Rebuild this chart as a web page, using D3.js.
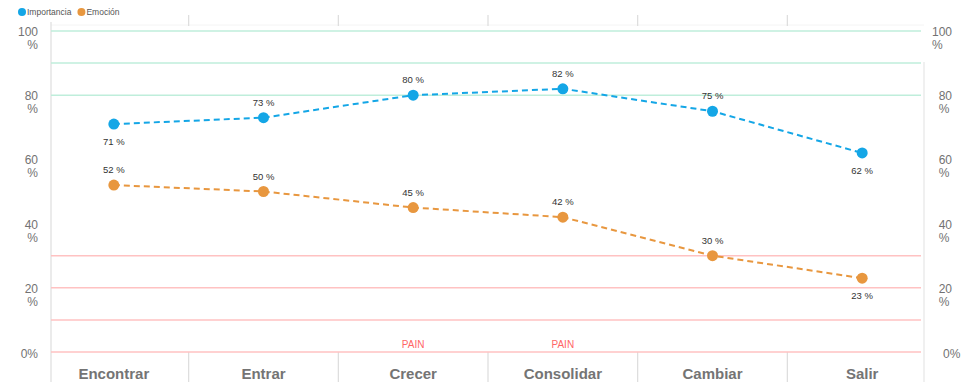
<!DOCTYPE html>
<html>
<head>
<meta charset="utf-8">
<script src="https://cdn.jsdelivr.net/npm/d3@7"></script>
<style>
	body { margin: 0; background: #fff; }
	text { font-family: "Liberation Sans", Arial, sans-serif; }
</style>
</head>
<body>
<svg id="chart"></svg>
<script>
// data
const stages = ["Encontrar", "Entrar", "Crecer", "Consolidar", "Cambiar", "Salir"];
const importancia = [71, 73, 80, 82, 75, 62];
const emocion = [52, 50, 45, 42, 30, 23];
const yTicks = [0, 20, 40, 60, 80, 100];
const greenLines = [100, 90, 80];
const redLines = [30, 20, 10, 0];
const painStages = ["Crecer", "Consolidar"];

const series = [
	{ name: "Importancia", values: importancia, color: "#14a6e6", below: [0, 5] },
	{ name: "Emoción", values: emocion, color: "#e8973f", below: [5] }
];

const width = 968, height = 382;
const svg = d3.select("#chart")
	.attr("width", width)
	.attr("height", height);

// scales
const x = d3.scaleBand()
	.domain(stages)
	.range([39, 937]);
const y = d3.scaleLinear()
	.domain([0, 100])
	.range([352, 31]);

const left = 51, right = 921;

// faint top line
svg.append("line")
	.attr("x1", left).attr("x2", 924)
	.attr("y1", 25).attr("y2", 25)
	.attr("stroke", "#f4f4f4");

// band separators at top and bottom
const bounds = stages.slice(1).map(d => x(d));
svg.selectAll(".topTick")
	.data(bounds)
	.enter().append("line")
	.attr("x1", d => d).attr("x2", d => d)
	.attr("y1", 15).attr("y2", 26)
	.attr("stroke", "#dcdcdc")
	.attr("stroke-width", 1.2);
svg.selectAll(".botTick")
	.data(bounds)
	.enter().append("line")
	.attr("x1", d => d).attr("x2", d => d)
	.attr("y1", y(0)).attr("y2", height)
	.attr("stroke", "#dcdcdc")
	.attr("stroke-width", 1.2);

// axis lines
svg.append("line")
	.attr("x1", left).attr("x2", left)
	.attr("y1", 22).attr("y2", height)
	.attr("stroke", "#dedede").attr("stroke-width", 1.2);
svg.append("line")
	.attr("x1", 924).attr("x2", 924)
	.attr("y1", 62).attr("y2", height)
	.attr("stroke", "#e6e6e6").attr("stroke-width", 1.2);

// coloured gridlines
svg.selectAll(".green")
	.data(greenLines)
	.enter().append("line")
	.attr("x1", left).attr("x2", right)
	.attr("y1", d => y(d)).attr("y2", d => y(d))
	.attr("stroke", "#bfeedb")
	.attr("stroke-width", 1.5);
svg.selectAll(".red")
	.data(redLines)
	.enter().append("line")
	.attr("x1", left).attr("x2", right)
	.attr("y1", d => y(d)).attr("y2", d => y(d))
	.attr("stroke", "#ffc2c2")
	.attr("stroke-width", 1.5);

// y labels both sides; the % goes right-aligned on the left side,
// left-aligned under the number on the right side
function yLabels(xPos, side) {
	const g = svg.append("g").attr("fill", "#727272").attr("font-size", 12);
	yTicks.forEach(t => {
		if (t === 0) {
			g.append("text")
				.attr("x", side === "left" ? xPos : xPos - 9)
				.attr("y", y(t) + 6)
				.attr("text-anchor", side === "left" ? "end" : "start")
				.text("0%");
			return;
		}
		const num = g.append("text")
			.attr("x", xPos)
			.attr("y", y(t) + 5)
			.attr("text-anchor", "end")
			.text(t);
		const w = num.node().getComputedTextLength();
		g.append("text")
			.attr("x", side === "left" ? xPos : xPos - w)
			.attr("y", y(t) + 18)
			.attr("text-anchor", side === "left" ? "end" : "start")
			.text("%");
	});
}
yLabels(38, "left");
yLabels(952, "right");

// category labels
svg.selectAll(".cat")
	.data(stages)
	.enter().append("text")
	.attr("x", d => x(d) + x.bandwidth() / 2)
	.attr("y", 379)
	.attr("text-anchor", "middle")
	.attr("font-size", 15)
	.attr("font-weight", "bold")
	.attr("fill", "#747474")
	.text(d => d);

// PAIN markers
svg.selectAll(".pain")
	.data(painStages)
	.enter().append("text")
	.attr("x", d => x(d) + x.bandwidth() / 2)
	.attr("y", 348)
	.attr("text-anchor", "middle")
	.attr("font-size", 10)
	.attr("fill", "#ff6666")
	.text("PAIN");

// lines, points, labels
const cx = i => x(stages[i]) + x.bandwidth() / 2;
const line = d3.line()
	.x((d, i) => cx(i))
	.y(d => y(d));

series.forEach(s => {
	svg.append("path")
		.datum(s.values)
		.attr("fill", "none")
		.attr("stroke", s.color)
		.attr("stroke-width", 2)
		.attr("stroke-dasharray", "6,4")
		.attr("d", line);

	svg.selectAll(null)
		.data(s.values)
		.enter().append("circle")
		.attr("cx", (d, i) => cx(i))
		.attr("cy", d => y(d))
		.attr("r", 5.5)
		.attr("fill", s.color);

	svg.selectAll(null)
		.data(s.values)
		.enter().append("text")
		.attr("x", (d, i) => cx(i))
		.attr("y", (d, i) => s.below.includes(i) ? y(d) + 21 : y(d) - 12)
		.attr("text-anchor", "middle")
		.attr("font-size", 9.5)
		.attr("fill", "#333")
		.text(d => d + " %");
});

// legend
const legend = svg.append("g").attr("font-size", 8.5).attr("fill", "#555");
let lx = 22;
series.forEach(s => {
	legend.append("circle")
		.attr("cx", lx).attr("cy", 12).attr("r", 4)
		.attr("fill", s.color);
	const t = legend.append("text")
		.attr("x", lx + 5).attr("y", 15)
		.text(s.name);
	lx += 5 + t.node().getComputedTextLength() + 10;
});
</script>
</body>
</html>
